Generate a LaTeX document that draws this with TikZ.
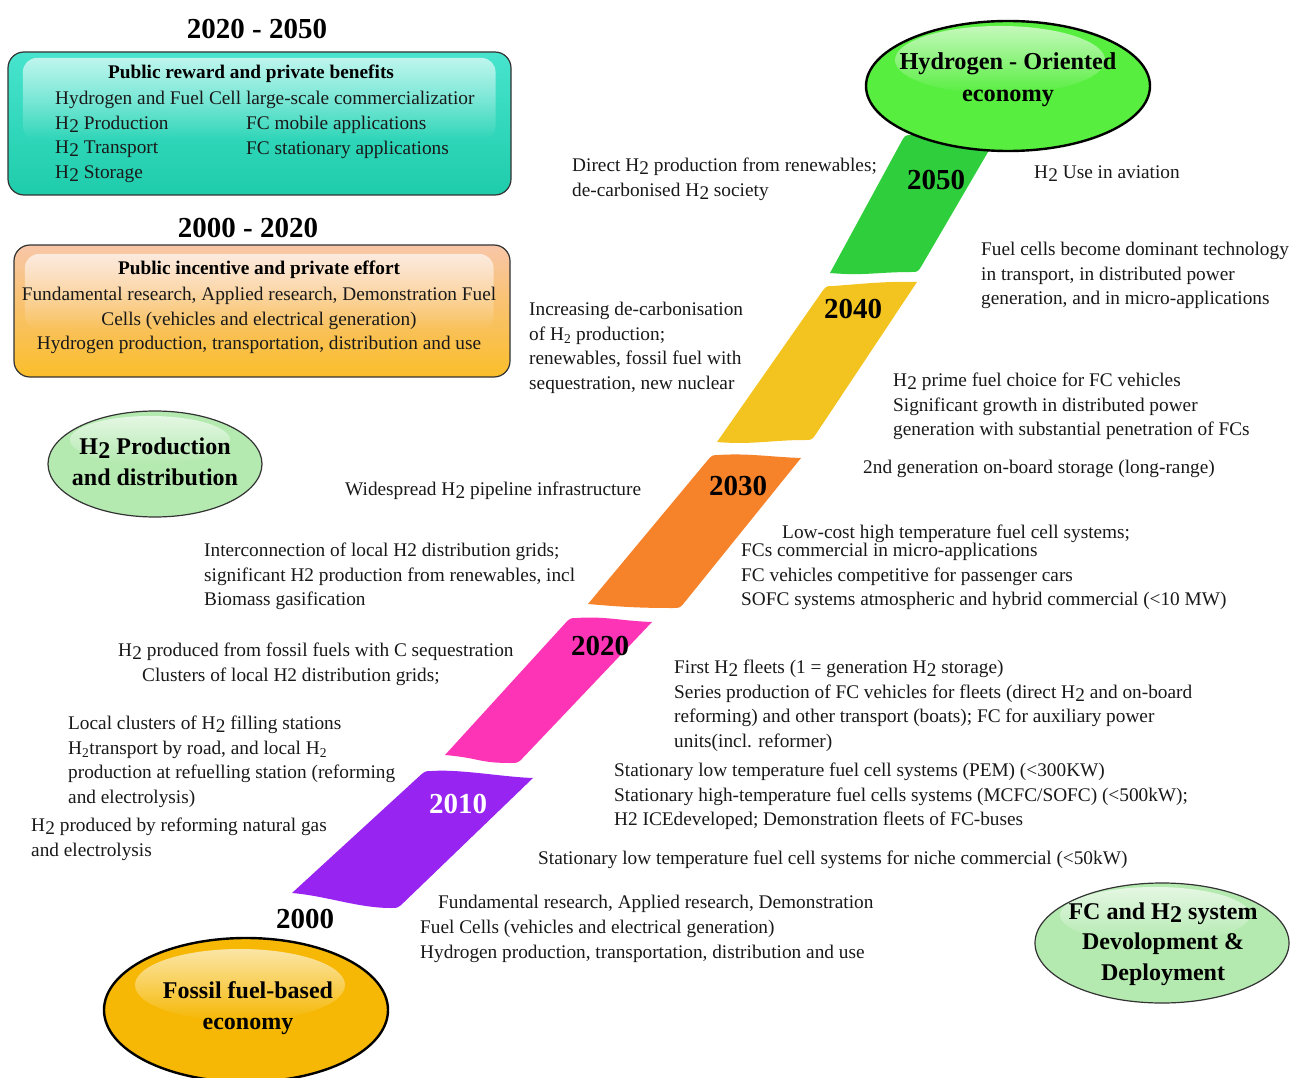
\documentclass[tikz,border=0pt]{standalone}
\usepackage{fontspec}
\setmainfont{Liberation Serif}
\usetikzlibrary{calc,fadings}
\tikzfading[name=hlfade, top color=transparent!35, bottom color=transparent!100]
\newcommand\Htwo{H\kern0.3pt\raisebox{-0.32ex}{2}}
\newcommand\Hsub{H\textsubscript{2}}
\definecolor{cpurple}{RGB}{152,36,242}
\definecolor{cpink}{RGB}{254,52,182}
\definecolor{corange}{RGB}{246,130,42}
\definecolor{cyellow}{RGB}{243,196,32}
\definecolor{cgreen}{RGB}{46,206,60}
\definecolor{ctopell}{RGB}{88,238,64}
\definecolor{cfossil}{RGB}{246,184,4}
\definecolor{clight}{RGB}{180,234,176}
\definecolor{ctealtop}{RGB}{72,228,206}
\definecolor{ctealbot}{RGB}{30,204,170}
\definecolor{corgtop}{RGB}{248,198,168}
\definecolor{corgbot}{RGB}{250,190,42}
\newcommand\ribbon[5]{%
  \fill[#1] (#2) .. controls ($(#2)+(35,3)$) and ($(#3)+(-40,0)$) .. ($(#3)+(-7,0)$)
   .. controls (#3) .. ($(#3)!9pt!(#4)$) -- (#4)
   .. controls ($(#4)+(-30,-1)$) and ($(#5)+(35,-2)$) .. ($(#5)+(7,0)$)
   .. controls (#5) .. ($(#5)!9pt!(#2)$) -- cycle;}
\begin{document}
\begin{tikzpicture}[x=1pt,y=-1pt,
  txt/.style={anchor=north west, align=left, inner sep=0pt, text=black!90,
    font=\fontsize{19.3}{24.6}\selectfont},
  ctxt/.style={anchor=north, align=center, inner sep=0pt, text=black!90,
    font=\fontsize{19.3}{24.6}\selectfont},
  hdr/.style={inner sep=0pt, font=\fontsize{19.3}{22}\selectfont\bfseries},
  yr/.style={inner sep=0pt, font=\fontsize{29}{30}\selectfont\bfseries},
  elltxt/.style={inner sep=0pt, align=center, font=\fontsize{24}{30.5}\selectfont\bfseries},
  box/.style={draw=black!80, line width=1.2pt, rounded corners=16pt},
  hl/.style={white, path fading=hlfade}]
\useasboundingbox (0,0) rectangle (1293,1078);
\fill[white] (0,0) rectangle (1293,1078);

% ---------- top-left boxes ----------
\node[yr] (p1) at (257,29) {2020 - 2050};
\shade[box, top color=ctealtop, bottom color=ctealbot] (8,52) rectangle (511,195);
\fill[hl, rounded corners=14pt] (23,58) rectangle (496,140);
\node[hdr] (t1h) at (251,74) {Public reward and private benefits};
\node[txt] (t1a) at (55,91) {Hydrogen and Fuel Cell large-scale commercializatior\\\Htwo{} Production\\\Htwo{} Transport\\\Htwo{} Storage};
\node[txt] (t1b) at (246,116) {FC mobile applications\\FC stationary applications};

\node[yr] (p2) at (248,228) {2000 - 2020};
\shade[box, top color=corgtop, bottom color=corgbot] (14,245) rectangle (510,377);
\fill[hl, rounded corners=14pt] (25,254) rectangle (494,330);
\node[hdr] (t2h) at (259,270) {Public incentive and private effort};
\node[ctxt] (t2a) at (259,287) {Fundamental research, Applied research, Demonstration Fuel\\Cells (vehicles and electrical generation)\\Hydrogen production, transportation, distribution and use};

% ---------- ellipses (side) ----------
\fill[clight] (155,464) ellipse [x radius=107pt, y radius=53pt];
\fill[hl] (150,440) ellipse [x radius=80pt, y radius=24pt];
\draw[black!80, line width=1.2pt] (155,464) ellipse [x radius=107pt, y radius=53pt];
\node[elltxt] (e2) at (155,462) {\Htwo{} Production\\and distribution};

\fill[clight] (1162,943) ellipse [x radius=127pt, y radius=60pt];
\fill[hl] (1155,915) ellipse [x radius=95pt, y radius=28pt];
\draw[black!80, line width=1.2pt] (1162,943) ellipse [x radius=127pt, y radius=60pt];
\node[elltxt] (e4) at (1163,944) {FC and \Htwo{} system\\Devolopment \&\\Deployment};

% ---------- ribbon ----------
\ribbon{cpurple}{292,893}{398,908}{533,778}{425,771}
\ribbon{cpink}{445,755}{518,763}{652,622}{570,618}
\ribbon{corange}{588,604}{680,608}{801,458}{712,455}
\ribbon{cyellow}{717,442}{812,440}{917,282}{826,286}
\ribbon{cgreen}{830,273}{918,272}{995,140}{905,135}

\node[yr, text=white] (y10) at (458,804) {2010};
\node[yr] (y20) at (600,646) {2020};
\node[yr] (y30) at (738,486) {2030};
\node[yr] (y40) at (853,309) {2040};
\node[yr] (y50) at (936,180) {2050};
\node[yr] (y00) at (305,919) {2000};

% ---------- top and bottom ellipses ----------
\fill[ctopell] (1008,86) ellipse [x radius=142pt, y radius=65pt];
\fill[hl] (1000,60) ellipse [x radius=105pt, y radius=34pt];
\draw[black, line width=2.4pt] (1008,86) ellipse [x radius=142pt, y radius=65pt];
\node[elltxt, font=\fontsize{24.3}{32}\selectfont\bfseries] (e1) at (1008,80) {Hydrogen - Oriented\\economy};

\fill[cfossil] (246,1010) ellipse [x radius=142pt, y radius=72pt];
\fill[hl] (240,985) ellipse [x radius=105pt, y radius=36pt];
\draw[black, line width=2.4pt] (246,1010) ellipse [x radius=142pt, y radius=72pt];
\node[elltxt] (e3) at (248,1008) {Fossil fuel-based\\economy};

% ---------- texts ----------
\node[txt] (a1) at (572,158) {Direct \Htwo{} production from renewables;\\de-carbonised \Htwo{} society};
\node[txt] (a2) at (1034,166) {\Htwo{} Use in aviation};
\node[txt] (a3) at (981,242) {Fuel cells become dominant technology\\in transport, in distributed power\\generation, and in micro-applications};
\node[txt] (a4) at (529,302) {Increasing de-carbonisation\\of \Hsub{} production;\\renewables, fossil fuel with\\sequestration, new nuclear};
\node[txt] (a5) at (893,373) {\Htwo{} prime fuel choice for FC vehicles\\Significant growth in distributed power\\generation with substantial penetration of FCs};
\node[txt] (a6) at (863,460) {2nd generation on-board storage (long-range)};
\node[txt] (a7) at (345,482) {Widespread \Htwo{} pipeline infrastructure};
\node[txt] (a8) at (782,525) {Low-cost high temperature fuel cell systems;};
\node[txt] (a9) at (741,543) {FCs commercial in micro-applications\\FC vehicles competitive for passenger cars\\SOFC systems atmospheric and hybrid commercial (<10 MW)};
\node[txt] (a10) at (204,543) {Interconnection of local H2 distribution grids;\\significant H2 production from renewables, incl\\Biomass gasification};
\node[txt] (a11) at (118,643) {\Htwo{} produced from fossil fuels with C sequestration};
\node[txt] (a12) at (142,668) {Clusters of local H2 distribution grids;};
\node[txt] (a13) at (674,660) {First \Htwo{} fleets (1 = generation \Htwo{} storage)\\Series production of FC vehicles for fleets (direct \Htwo{} and on-board\\reforming) and other transport (boats); FC for auxiliary power\\units(incl. reformer)};
\node[txt] (a14) at (68,716) {Local clusters of \Htwo{} filling stations\\\Hsub{}transport by road, and local \Hsub\\production at refuelling station (reforming\\and electrolysis)};
\node[txt] (a15) at (614,763) {Stationary low temperature fuel cell systems (PEM) (<300KW)\\Stationary high-temperature fuel cells systems (MCFC/SOFC) (<500kW);\\H2 ICEdeveloped; Demonstration fleets of FC-buses};
\node[txt] (a16) at (31,818) {\Htwo{} produced by reforming natural gas\\and electrolysis};
\node[txt] (a17) at (538,851) {Stationary low temperature fuel cell systems for niche commercial (<50kW)};
\node[txt] (a18) at (438,895) {Fundamental research, Applied research, Demonstration};
\node[txt] (a19) at (420,920) {Fuel Cells (vehicles and electrical generation)\\Hydrogen production, transportation, distribution and use};
\end{tikzpicture}
\end{document}
